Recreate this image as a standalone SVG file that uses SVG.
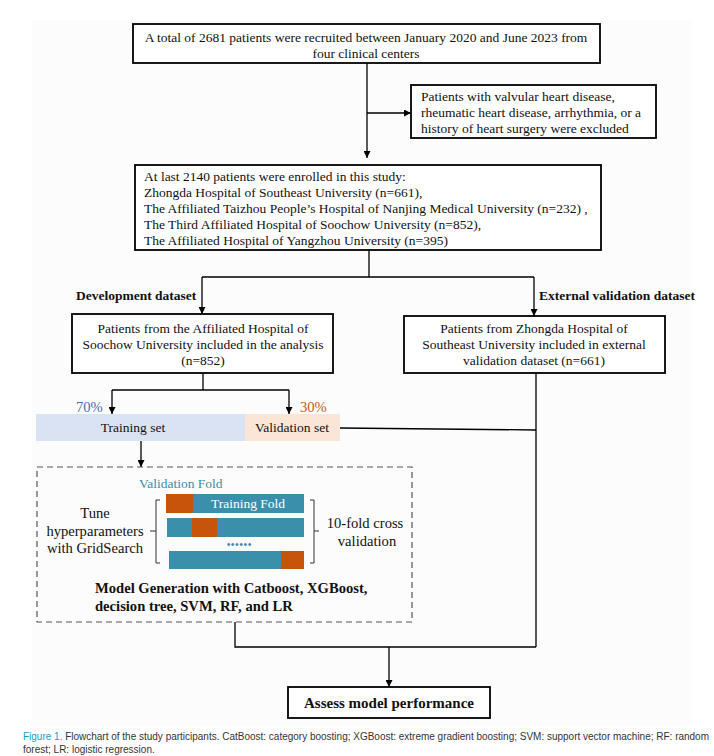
<svg xmlns="http://www.w3.org/2000/svg" width="714" height="756" viewBox="0 0 714 756">
<defs>
<marker id="arr" viewBox="0 0 10 10" refX="10" refY="5" markerWidth="7" markerHeight="7" markerUnits="userSpaceOnUse" orient="auto">
<path d="M0,0 L10,5 L0,10 z" fill="#000"/>
</marker>
<style>
.box{fill:#fff;stroke:#000;stroke-width:1.8}
.t{font-family:"Liberation Serif","Times New Roman",serif;font-size:13.5px;fill:#111}
.m{font-size:14.6px}
.b{font-weight:bold}
.c{text-anchor:middle}
.ln{fill:none;stroke:#000;stroke-width:1.3}
.teal{fill:#3a8fab}
.org{fill:#c8540c}
.cap{font-family:"Liberation Sans",Arial,sans-serif;font-size:10px;fill:#333}
</style>
</defs>
<rect width="714" height="756" fill="#fff"/>
<rect x="32" y="20" width="660" height="706" fill="#fcfcfc"/>

<g id="connectors">
<path class="ln" d="M367,63 V158" marker-end="url(#arr)"/>
<path class="ln" d="M367,113 H411" marker-end="url(#arr)"/>
<path class="ln" d="M369,250 V277 M202,277 H534"/>
<path class="ln" d="M202,277 V314" marker-end="url(#arr)"/>
<path class="ln" d="M534,277 V316" marker-end="url(#arr)"/>
<path class="ln" d="M203,373 V390 M112,390 H289"/>
<path class="ln" d="M112,390 V414" marker-end="url(#arr)"/>
<path class="ln" d="M289,390 V414" marker-end="url(#arr)"/>
<path class="ln" d="M141,441 V467" marker-end="url(#arr)"/>
<path class="ln" d="M340,428 L536,430 M536,373 V647 M235,622 V647 H536"/>
<path class="ln" d="M389,647 V687" marker-end="url(#arr)"/>
</g>

<g id="n_total">
<rect class="box" x="133" y="24" width="467" height="39"/>
<text class="t c" x="366" y="42">A total of 2681 patients were recruited between January 2020 and June 2023 from</text>
<text class="t c" x="366" y="58">four clinical centers</text>
</g>

<g id="n_excluded">
<rect class="box" x="411" y="85" width="245" height="53"/>
<text class="t" x="421" y="101">Patients with valvular heart disease,</text>
<text class="t" x="421" y="117">rheumatic heart disease, arrhythmia, or a</text>
<text class="t" x="421" y="133">history of heart surgery were excluded</text>
</g>

<g id="n_enrolled">
<rect class="box" x="135" y="165" width="466" height="85"/>
<text class="t" x="144" y="181">At last 2140 patients were enrolled in this study:</text>
<text class="t" x="144" y="197">Zhongda Hospital of Southeast University (n=661),</text>
<text class="t" x="144" y="213">The Affiliated Taizhou People’s Hospital of Nanjing Medical University (n=232) ,</text>
<text class="t" x="144" y="229">The Third Affiliated Hospital of Soochow University (n=852),</text>
<text class="t" x="144" y="245">The Affiliated Hospital of Yangzhou University (n=395)</text>
</g>

<g id="lbl_dev"><text class="t b" x="76" y="300">Development dataset</text></g>
<g id="lbl_ext"><text class="t b" x="539" y="300">External validation dataset</text></g>

<g id="n_dev">
<rect class="box" x="72" y="314" width="261" height="59"/>
<text class="t c" x="203" y="333">Patients from the Affiliated Hospital of</text>
<text class="t c" x="203" y="349">Soochow University included in the analysis</text>
<text class="t c" x="203" y="365">(n=852)</text>
</g>

<g id="n_ext">
<rect class="box" x="404" y="316" width="261" height="57"/>
<text class="t c" x="534" y="333">Patients from Zhongda Hospital of</text>
<text class="t c" x="534" y="349">Southeast University included in external</text>
<text class="t c" x="534" y="365">validation dataset (n=661)</text>
</g>

<g id="n_split">
<text class="t m" x="76" y="412" style="fill:#4a6cb3">70%</text>
<text class="t m" x="300" y="412" style="fill:#c55a11">30%</text>
<rect x="36" y="414" width="209" height="27" fill="#dae3f3"/>
<rect x="245" y="414" width="95" height="27" fill="#fbe5d6"/>
<text class="t c" x="133" y="432">Training set</text>
<text class="t c" x="292" y="432">Validation set</text>
</g>

<g id="n_model">
<rect x="37" y="467" width="375" height="155" fill="none" stroke="#555" stroke-width="1.2" stroke-dasharray="6,4"/>
<text class="t" x="139" y="488" style="fill:#3a8fab">Validation Fold</text>
<rect class="teal" x="166" y="494" width="138" height="19"/>
<rect class="org" x="166" y="494" width="27" height="19"/>
<text class="t c" x="248" y="508" style="fill:#fff">Training Fold</text>
<rect class="teal" x="167" y="518" width="137" height="19"/>
<rect class="org" x="192" y="518" width="25" height="19"/>
<text class="t c" x="239" y="549" style="fill:#3a8fab;font-size:12px">••••••</text>
<rect class="teal" x="169" y="551" width="135" height="18"/>
<rect class="org" x="281" y="551" width="23" height="18"/>
<path d="M160,500 H156 V563 H160 M156,531 H150" fill="none" stroke="#333" stroke-width="1"/>
<path d="M310,500 H314 V563 H310 M314,531 H319" fill="none" stroke="#333" stroke-width="1"/>
<text class="t m c" x="95" y="518">Tune</text>
<text class="t m c" x="95" y="536">hyperparameters</text>
<text class="t m c" x="95" y="553">with GridSearch</text>
<text class="t m c" x="365" y="528">10-fold cross</text>
<text class="t m c" x="367" y="546">validation</text>
<text class="t m b" x="95" y="593">Model Generation with Catboost, XGBoost,</text>
<text class="t m b" x="95" y="611">decision tree, SVM, RF, and LR</text>
</g>

<g id="n_assess">
<rect class="box" x="288" y="687" width="202" height="31"/>
<text class="t b c" x="389" y="708" style="font-size:15px">Assess model performance</text>
</g>

<g id="caption">
<text class="cap" x="23" y="740" textLength="686" lengthAdjust="spacingAndGlyphs"><tspan style="fill:#1a9bbf">Figure 1.</tspan> Flowchart of the study participants. CatBoost: category boosting; XGBoost: extreme gradient boosting; SVM: support vector machine; RF: random</text>
<text class="cap" x="23" y="753">forest; LR: logistic regression.</text>
</g>
</svg>
